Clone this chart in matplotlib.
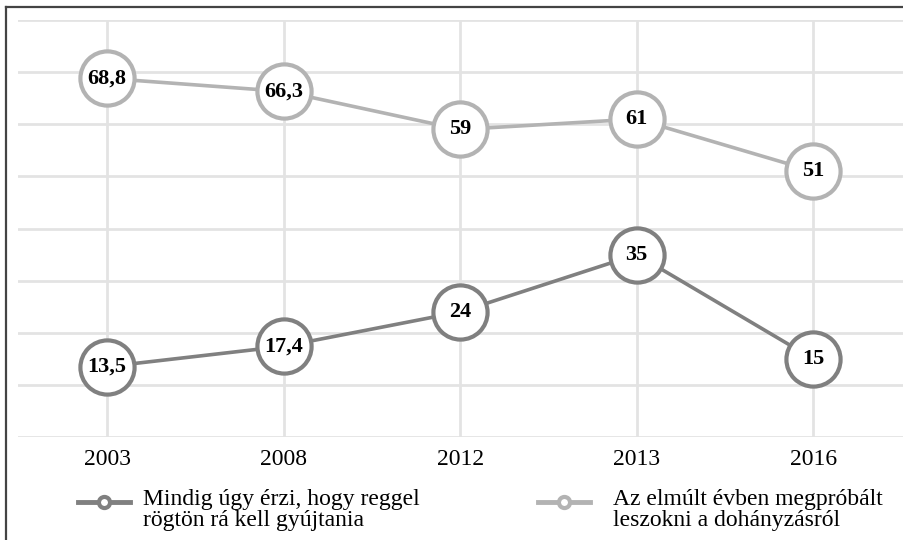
import matplotlib
matplotlib.use('Agg')
import matplotlib.pyplot as plt
from matplotlib.lines import Line2D

years = ['2003', '2008', '2012', '2013', '2016']
reggel = [13.5, 17.4, 24, 35, 15]
leszokni = [68.8, 66.3, 59, 61, 51]
reggel_labels = ['13,5', '17,4', '24', '35', '15']
leszokni_labels = ['68,8', '66,3', '59', '61', '51']
legend_texts = ['Mindig úgy érzi, hogy reggel\nrögtön rá kell gyújtania',
                'Az elmúlt évben megpróbált\nleszokni a dohányzásról']

dark = '#808080'
light = '#b3b3b3'
W, H = 904, 540

plt.rcParams['font.family'] = ['Liberation Serif', 'DejaVu Serif']

fig = plt.figure(figsize=(W / 100, H / 100), dpi=100)
ax = fig.add_axes([18 / W, 1 - 437 / H, 1 - 18 / W, (437 - 20) / H])

x = list(range(len(years)))
for vals, labels, col in [(leszokni, leszokni_labels, light), (reggel, reggel_labels, dark)]:
    ax.plot(x, vals, color=col, lw=2.6, marker='o', ms=39, mfc='white',
            mec=col, mew=3, zorder=3, clip_on=False)
    for xi, v, t in zip(x, vals, labels):
        ax.text(xi, v, t, ha='center', va='center', fontsize=16,
                fontweight='bold', color='black', zorder=4)

ax.set_xlim(-0.505, 4.515)
ax.set_ylim(0, 80)
ax.set_yticks(range(0, 81, 10))
ax.set_xticks(x)
ax.set_xticklabels(years, fontsize=17)
ax.tick_params(length=0, pad=8.5, labelleft=False)
ax.grid(True, color='#e3e3e3', lw=2)
ax.set_axisbelow(True)
for s in ax.spines.values():
    s.set_visible(False)

# border (top and left visible)
fig.add_artist(Line2D([6 / W, 6 / W], [0, 1 - 7 / H], color='#444444', lw=1.6,
                      transform=fig.transFigure))
fig.add_artist(Line2D([6 / W, 1], [1 - 7 / H, 1 - 7 / H], color='#444444', lw=1.6,
                      transform=fig.transFigure))

# legend drawn by hand: handle aligned with first text line
for (hx0, hx1, tx), col, txt in zip([(78, 130, 143), (538, 590, 613)], [dark, light], legend_texts):
    yy = 1 - 502 / H
    fig.add_artist(Line2D([hx0 / W, hx1 / W], [yy, yy], color=col, lw=3.5,
                          transform=fig.transFigure))
    fig.add_artist(Line2D([(hx0 + hx1) / 2 / W], [yy], color=col, marker='o', ms=8,
                          mfc='white', mew=3, transform=fig.transFigure))
    fig.text(tx / W, 1 - 489 / H, txt, fontsize=17, va='top', ha='left',
             linespacing=1.0)

fig.savefig('out.png', dpi=100)
